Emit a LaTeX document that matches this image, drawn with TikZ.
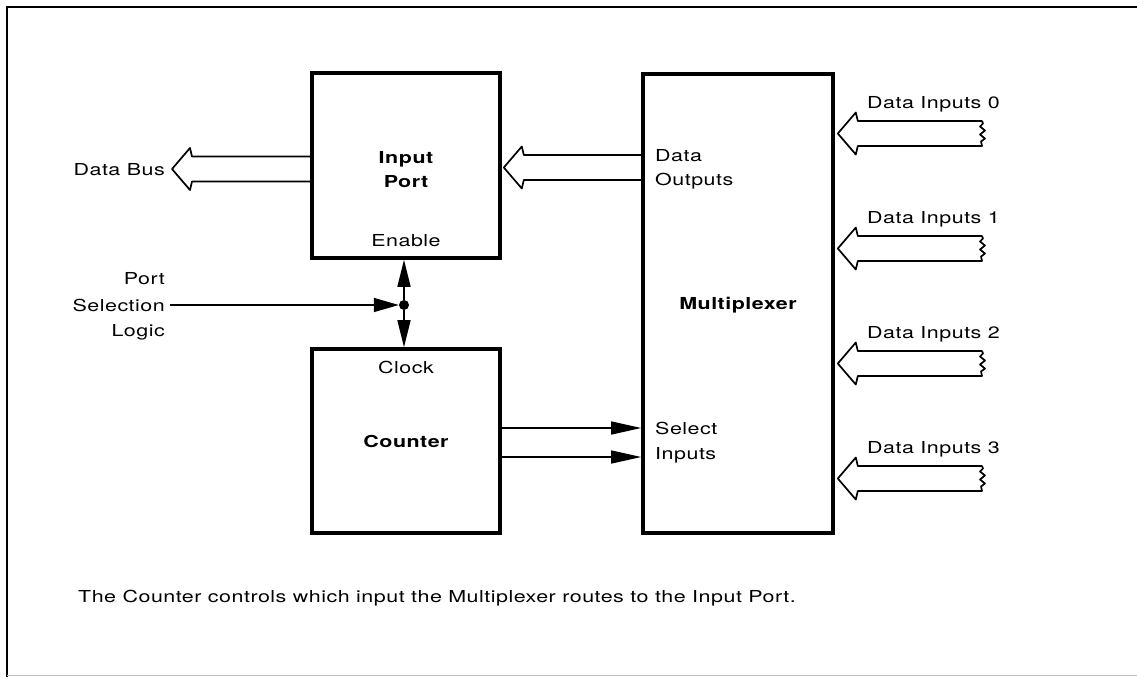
\documentclass[tikz,border=0pt]{standalone}
\usepackage{fontspec}
\setmainfont{TeX Gyre Heros}[FakeStretch=1.3, LetterSpace=3]
\usetikzlibrary{arrows.meta,calc}
\newcommand{\busarrow}[2]{%
  \draw[bus] let \p1=(#1), \p2=(#2) in
    (\x2,\y1+12.5pt) -- (\x1+20pt,\y1+12.5pt) -- (\x1+18pt,\y1+21pt) -- (\x1,\y1)
    -- (\x1+18pt,\y1-21pt) -- (\x1+20pt,\y1-12.5pt) -- (\x2,\y1-12.5pt);}
\newcommand{\busin}[2]{%
  \draw[bus] let \p1=(#1), \p2=(#2) in
    (\x2,\y1+12.5pt) -- (\x1+20pt,\y1+12.5pt) -- (\x1+18pt,\y1+21pt) -- (\x1,\y1)
    -- (\x1+18pt,\y1-21pt) -- (\x1+20pt,\y1-12.5pt) -- (\x2,\y1-12.5pt)
    -- (\x2-1pt,\y1-8pt) -- (\x2+3pt,\y1-5pt) -- (\x2-2pt,\y1-1pt) -- (\x2+3pt,\y1+3pt)
    -- (\x2-2pt,\y1+7pt) -- (\x2+1pt,\y1+10pt) -- (\x2,\y1+12.5pt);}
\begin{document}
\begin{tikzpicture}[x=1pt,y=-1pt,
  blk/.style={draw, line width=3.6pt, inner sep=0pt},
  txt/.style={inner sep=0pt, font=\fontsize{16.5}{20}\selectfont},
  btxt/.style={txt, font=\fontsize{16.5}{20}\selectfont\bfseries},
  bus/.style={line width=1.7pt, line join=round},
  sig/.style={line width=1.5pt, -{Triangle[length=30pt,width=13pt]}},
  psig/.style={line width=1.5pt, -{Triangle[length=25pt,width=14pt]}},
  vsig/.style={line width=1.5pt, -{Triangle[length=27pt,width=13pt]}},
  frame/.style={line width=1.8pt}]
\useasboundingbox (0,0) rectangle (1137,677);
\draw[frame] (7,677) -- (7,7) -- (1137,7);
\draw[line width=1pt, black!25] (7,675) -- (1137,675);

% blocks
\node[blk, minimum width=188pt, minimum height=185pt] (inport) at (406,165.5) {};
\node[blk, minimum width=188pt, minimum height=184pt] (counter) at (406,441) {};
\node[blk, minimum width=190pt, minimum height=459pt] (mux) at (738,303.5) {};

% block texts
\node[btxt, anchor=base] (inportlbl1) at (406,163) {Input};
\node[btxt, anchor=base] (inportlbl2) at (406,187) {Port};
\node[txt, anchor=base] (enable) at (406,246) {Enable};
\node[txt, anchor=base] (clock) at (406,373) {Clock};
\node[btxt, anchor=base] (counterlbl) at (406,447) {Counter};
\node[btxt, anchor=base] (muxlbl) at (738,309) {Multiplexer};
\node[txt, anchor=base west] (dout1) at (655,161) {Data};
\node[txt, anchor=base west] (dout2) at (655,185) {Outputs};
\node[txt, anchor=base west] (sel1) at (655,434) {Select};
\node[txt, anchor=base west] (sel2) at (655,459) {Inputs};

% Data Bus
\node[txt, anchor=base east] (databus) at (165,175) {Data Bus};
\coordinate (busTip) at (172,169);
\coordinate (busTail) at (inport.west |- busTip);
\busarrow{busTip}{busTail}

% Data outputs -> input port
\coordinate (doTip) at ($(inport.east |- 0,167.5)+(2,0)$);
\coordinate (doTail) at (mux.west |- doTip);
\busarrow{doTip}{doTail}

% Data inputs
\foreach \i/\yy in {0/133.5,1/248.5,2/363.5,3/478.5}{
  \coordinate (diTip\i) at ($(mux.east |- 0,\yy)+(3,0)$);
  \coordinate (diTail\i) at (982,\yy);
  \node[txt, anchor=base west] (dil\i) at (867,\yy-25) {Data Inputs \i};
  \busin{diTip\i}{diTail\i}
}

% Port selection logic
\node[txt, anchor=base east] (psl1) at (165,284) {Port};
\node[txt, anchor=base east] (psl2) at (165,311) {Selection};
\node[txt, anchor=base east] (psl3) at (165,336) {Logic};
\node[circle, fill, inner sep=0pt, minimum size=10pt] (jn) at (404,305) {};
\draw[psig, shorten <=5pt] (psl2.east |- jn) -- (jn.west);
\draw[vsig] (jn) -- (jn |- inport.south);
\draw[vsig] (jn) -- (jn |- counter.north);

% Counter -> select inputs
\draw[sig] (counter.east |- 0,428) -- (mux.west |- 0,428);
\draw[sig] (counter.east |- 0,457) -- (mux.west |- 0,457);

% caption
\node[txt, anchor=base west] (caption) at (78,602) {The Counter controls which input the Multiplexer routes to the Input Port.};
\end{tikzpicture}
\end{document}
